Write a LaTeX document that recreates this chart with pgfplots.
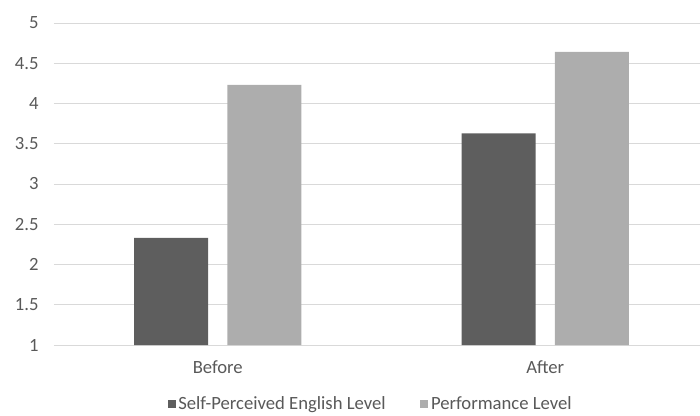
\documentclass[border=0pt]{standalone}
\usepackage{pgfplots}
\pgfplotsset{compat=1.18}
\usepackage{fontspec}
\setmainfont{Carlito}

\definecolor{txtgray}{HTML}{595959}
\definecolor{gridgray}{HTML}{D9D9D9}
\definecolor{selfbar}{HTML}{5E5E5E}
\definecolor{perfbar}{HTML}{ADADAD}

\begin{document}
\begin{tikzpicture}
\begin{axis}[
  at={(0pt,0pt)}, anchor=south west,
  scale only axis,
  width=491.25pt, height=241.5pt,
  xmin=-0.5, xmax=1.5,
  ymin=1, ymax=5,
  xtick={0,1}, xticklabels={Before, After},
  ytick={1,1.5,2,2.5,3,3.5,4,4.5,5},
  ymajorgrids,
  grid style={draw=gridgray, line width=0.75pt},
  axis line style={draw=none},
  major tick length=0pt,
  tick label style={text=txtgray},
  font=\fontsize{14}{16}\selectfont,
  /pgf/number format/assume math mode=true,
  yticklabel style={anchor=east, xshift=-8pt},
  xticklabel style={anchor=north, yshift=-8pt},
  ybar,
  bar width=55.5pt,
  legend style={at={(0.484,-0.183)}, anchor=center, draw=none,
    legend columns=2, text=txtgray,
    font=\fontsize{14}{16}\selectfont,
    /tikz/every even column/.append style={column sep=24pt},
    inner sep=0pt},
  legend image code/.code={\fill[#1] (0pt,-3pt) rectangle (6pt,3pt);},
]
% self-perceived English level
\addplot[fill=selfbar, draw=none, bar shift=-35pt] coordinates {(0,2.33) (1,3.63)};
% performance level
\addplot[fill=perfbar, draw=none, bar shift=35pt] coordinates {(0,4.23) (1,4.64)};
\legend{Self-Perceived English Level, Performance Level}
\end{axis}
\pgfresetboundingbox
\useasboundingbox (-40.5pt,-52.5pt) rectangle (484.5pt,258.75pt);
\end{tikzpicture}
\end{document}
